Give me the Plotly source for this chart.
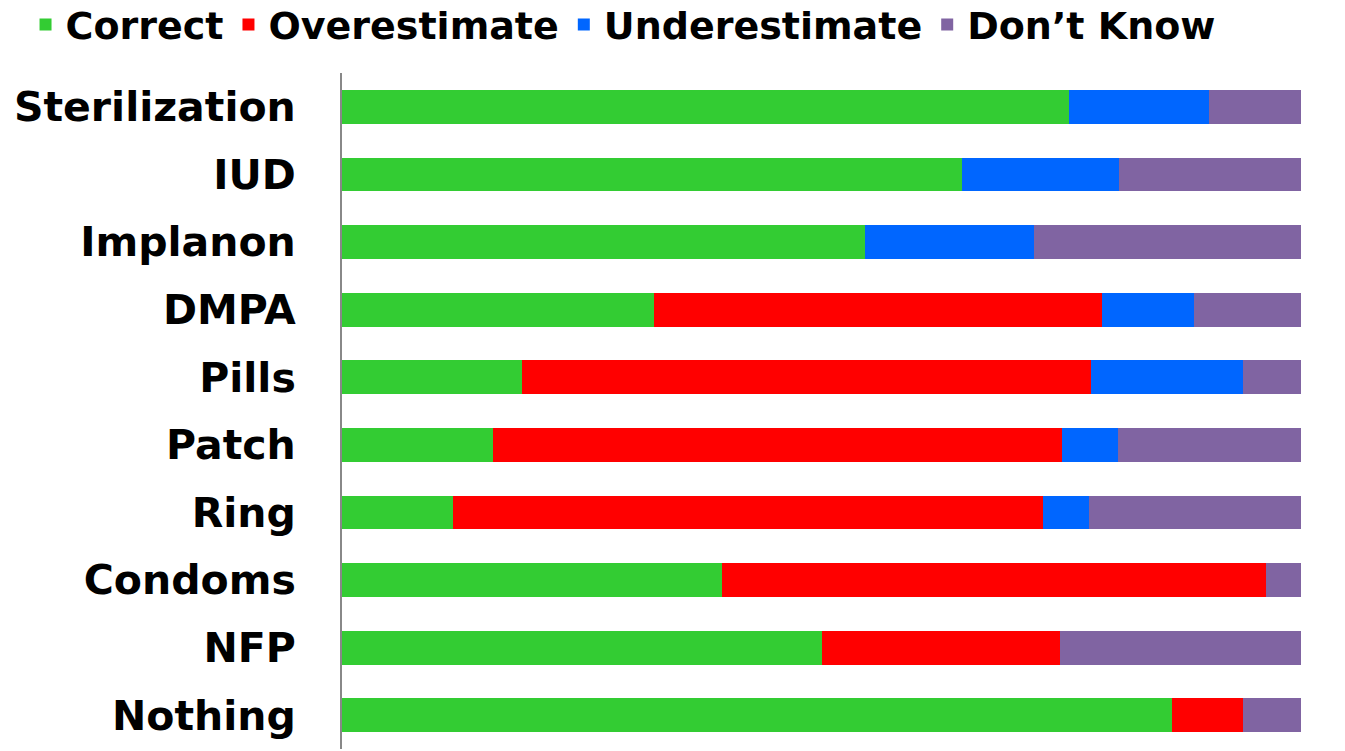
import plotly.graph_objects as go

methods = ["Sterilization", "IUD", "Implanon", "DMPA", "Pills", "Patch", "Ring", "Condoms", "NFP", "Nothing"]
correct =       [75.8, 64.7, 54.5, 32.5, 18.8, 15.7, 11.6, 39.6, 50.1, 86.5]
overestimate =  [0.0,  0.0,  0.0,  46.7, 59.3, 59.4, 61.5, 56.8, 24.8, 7.4]
underestimate = [14.6, 16.3, 17.7, 9.6,  15.9, 5.8,  4.8,  0.0,  0.0,  0.0]
dont_know =     [9.6,  19.0, 27.8, 11.3, 6.1,  19.1, 22.1, 3.6,  25.1, 6.1]

series = [
    ("Correct", correct, "#33CC33"),
    ("Overestimate", overestimate, "#FF0000"),
    ("Underestimate", underestimate, "#0066FF"),
    ("Don\u2019t Know", dont_know, "#8064A2"),
]

fig = go.Figure()
for name, vals, color in series:
    fig.add_trace(go.Bar(
        y=methods, x=vals, name=name, orientation="h",
        marker=dict(color=color, line=dict(width=0)),
    ))

fig.update_layout(
    barmode="stack",
    bargap=0.5,
    width=1345, height=751,
    margin=dict(l=342, r=44, t=73, b=2, autoexpand=False),
    paper_bgcolor="white", plot_bgcolor="white",
    font=dict(family="DejaVu Sans", size=41, color="black", weight="bold"),
    showlegend=True,
    legend=dict(
        orientation="h", xref="paper", yref="paper",
        x=-0.33, y=1.118, xanchor="left", yanchor="top",
        traceorder="normal",
        font=dict(size=38, family="DejaVu Sans", weight="bold"),
        itemwidth=30, tracegroupgap=0,
        bgcolor="rgba(0,0,0,0)",
    ),
)
fig.update_xaxes(range=[0, 100], visible=False, showgrid=False)
fig.update_yaxes(
    categoryorder="array", categoryarray=methods, autorange="reversed",
    showline=True, linecolor="#888888", linewidth=2,
    ticks="", showgrid=False, ticklabelstandoff=36,
    tickfont=dict(size=41, family="DejaVu Sans", weight="bold"),
)

fig.write_html("out.html")
